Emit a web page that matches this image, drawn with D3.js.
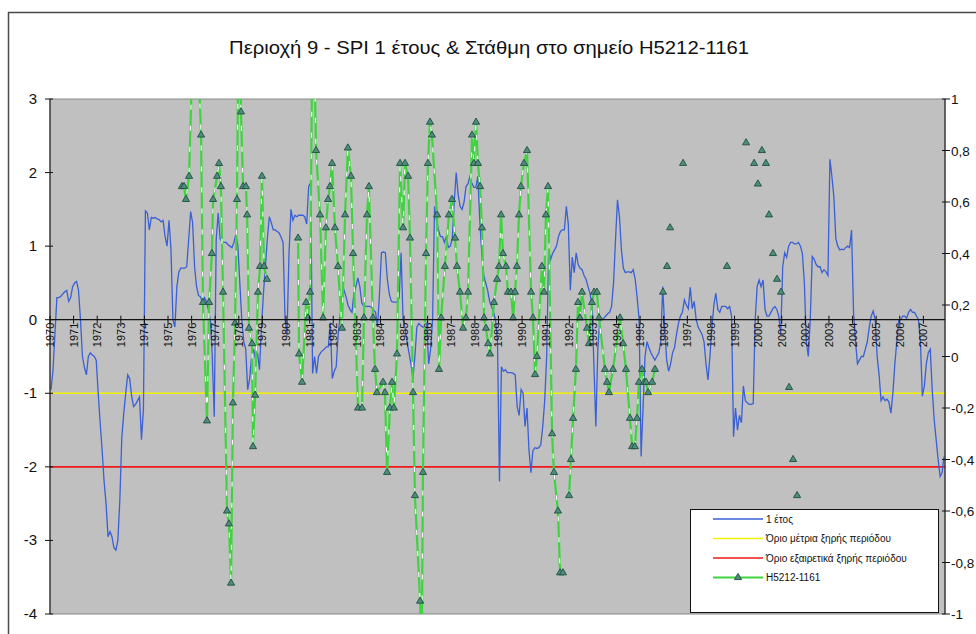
<!DOCTYPE html>
<html><head><meta charset="utf-8">
<script src="https://cdn.jsdelivr.net/npm/d3@7"></script>
<style>body{margin:0;background:#fff}svg{display:block}text{font-family:"Liberation Sans",Arial,sans-serif}</style>
</head><body><svg id="c" width="976" height="634"></svg>
<script>
const title = "Περιοχή 9 - SPI 1 έτους & Στάθμη στο σημείο H5212-1161";
const startYear = 1970;
const yearLabels = d3.range(1970, 2008).map(String);
const leftTicks = [3, 2, 1, 0, -1, -2, -3, -4];
const rightTicks = [1, 0.8, 0.6, 0.4, 0.2, 0, -0.2, -0.4, -0.6, -0.8, -1];
const thresholdModerate = -1;
const thresholdExtreme = -2;
const legendLabels = ["1 έτος", "Όριο μέτρια ξηρής περιόδου", "Όριο εξαιρετικά ξηρής περιόδου", "H5212-1161"];

// SPI 12-month, monthly from Jan 1970 to Nov 2007
const spi1yr = [
 -0.95,-0.7,-0.2,0.3,0.3,0.32,0.35,0.38,0.4,0.25,0.3,0.45,
 0.5,0.52,0.4,0.0,-0.5,-0.65,-0.75,-0.5,-0.45,-0.48,-0.5,-0.55,
 -1.0,-1.4,-1.77,-2.2,-2.5,-2.95,-2.88,-2.95,-3.1,-3.13,-3.0,-2.45,
 -1.6,-1.27,-1.0,-0.75,-0.8,-1.04,-1.18,-1.15,-1.1,-1.05,-1.63,-1.22,
 1.48,1.45,1.22,1.39,1.38,1.39,1.37,1.36,1.33,1.35,1.13,1.0,
 1.35,0.95,0.0,-0.1,0.45,0.65,0.7,0.7,0.7,0.72,1.09,1.47,
 1.32,0.72,0.45,0.33,0.31,0.23,0.3,0.25,0.14,0.0,-0.5,-1.32,
 1.09,1.45,1.1,1.05,1.05,1.05,1.02,1.0,0.98,1.05,1.16,1.0,
 0.5,0.0,-0.3,-0.4,-0.95,-0.8,-0.5,-0.4,-0.54,-0.45,-0.68,-0.1,
 0.35,0.72,1.1,1.4,1.32,1.22,1.22,1.2,1.18,1.12,1.05,0.0,
 -0.2,0.9,1.5,1.35,1.42,1.4,1.42,1.42,1.42,1.4,1.3,1.81,
 1.86,-0.73,-0.5,-0.73,-0.5,-0.45,-0.42,-0.4,-0.37,-0.37,-0.04,-0.8,
 -0.7,-0.64,-0.2,0.05,0.3,0.4,0.31,0.2,0.14,0.1,0.35,0.45,
 0.57,0.45,0.23,0.18,0.18,0.18,0.18,0.17,0.13,0.1,-0.1,0.35,
 0.91,0.92,0.91,0.55,0.35,0.25,0.24,0.24,0.24,0.3,0.91,0.0,
 -0.1,-0.3,-0.45,-0.6,-0.8,-0.5,-0.1,-0.05,-0.08,-0.1,-0.1,-0.05,
 -0.6,-0.4,0.0,1.54,1.35,1.22,1.13,1.13,1.05,1.13,0.98,1.0,
 1.1,1.6,2.0,1.7,1.54,1.5,1.6,1.81,1.85,1.95,1.85,1.8,
 1.8,1.95,1.35,0.9,0.6,0.5,0.4,0.25,0.18,0.1,0.0,-0.3,
 -2.2,-0.64,-0.7,-0.68,-0.72,-0.72,-0.72,-0.73,-0.75,-1.18,-1.3,-0.95,
 -1.0,-1.45,-1.2,-1.77,-2.08,-1.78,-1.74,-1.75,-1.74,-1.7,-1.45,-1.1,
 -0.5,0.95,0.82,0.9,0.95,1.0,1.13,1.2,1.22,1.22,1.54,1.3,
 0.4,0.85,0.64,0.91,0.75,0.7,0.68,0.6,0.55,0.45,0.36,0.2,
 -0.6,-1.45,-0.4,0.0,0.0,0.02,0.05,0.08,0.1,0.18,0.5,1.09,
 1.63,1.4,0.95,0.7,0.64,0.65,0.65,0.64,0.68,0.55,0.3,0.0,
 -1.86,-1.2,-0.5,-0.3,-0.38,-0.45,-0.5,-0.55,-0.5,-0.45,-0.3,0.45,
 -0.1,-0.55,-0.7,-0.6,-0.45,-0.38,-0.2,-0.05,0.05,0.1,0.27,0.2,
 0.15,0.44,0.15,0.25,0.0,-0.1,-0.15,-0.2,-0.3,-0.6,-0.82,-0.5,
 -0.1,0.2,0.36,0.14,0.1,0.18,0.18,0.18,0.15,0.18,0.05,-1.59,
 -1.2,-1.5,-1.3,-1.4,-0.9,-1.1,-1.13,-1.15,-1.15,-1.14,0.0,0.45,
 0.54,0.45,0.54,0.14,0.05,0.05,0.1,0.15,0.18,0.14,0.05,-0.2,
 0.72,0.91,0.85,1.0,1.05,1.05,1.03,1.03,1.05,1.0,0.9,0.5,
 -0.3,-0.5,0.0,0.86,0.82,0.75,0.72,0.72,0.64,0.68,0.65,0.6,
 2.18,1.95,1.67,1.1,1.0,0.95,0.96,0.95,0.98,1.0,0.98,1.22,
 0.1,-0.3,-0.6,-0.55,-0.5,-0.5,-0.4,-0.3,-0.1,0.05,0.12,0.0,
 -0.5,-0.75,-1.1,-1.05,-1.1,-1.08,-1.12,-1.27,-1.0,-0.6,-0.3,0.0,
 0.0,0.05,0.05,0.02,0.1,0.14,0.1,0.1,0.05,0.0,-0.3,-1.04,
 -0.9,-0.6,-0.45,-0.4,-0.95,-1.36,-1.63,-1.9,-2.13,-2.08,-1.86
];

// Groundwater level H5212-1161 (right axis); null = gap in the line
const levelDates = [
 1975.59,1975.68,1975.76,1975.89,1976.14,1976.40,1976.48,1976.65,1976.74,1976.86,1976.91,1977.08,1977.16,1977.24,1977.33,
 1977.50,1977.58,1977.67,1977.75,1977.84,1977.92,1978.01,1978.09,1978.18,1978.30,1978.35,1978.43,1978.56,1978.60,1978.69,
 1978.81,1978.90,1978.98,1979.07,1979.19, 1980.0,
 1980.51,1980.55,1980.68,1980.85,1980.93,1981.02,1981.14,1981.27,1981.44,1981.57,1981.69,1981.78,1981.86,1981.95,
 1982.07,1982.20,1982.37,1982.50,1982.62,1982.75,1982.84,1983.05,1983.22,1983.30,1983.43,1983.51,1983.68,1983.77,1983.85,
 1984.11,1984.19,1984.28,1984.40,1984.49,1984.57,1984.70,1984.83,1984.96,1985.04,1985.17,1985.25,1985.38,1985.46,
 1985.68,1985.74,1985.80,1985.93,1986.01,1986.10,1986.18,1986.40,1986.48,1986.57,1986.73,1986.90,1987.03,1987.16,
 1987.24,1987.37,1987.50,1987.62,1987.71,1987.88,1987.96,1988.05,1988.13,1988.22,1988.30,1988.39,1988.47,1988.56,
 1988.64,1988.81,1988.94,1989.02,1989.11,1989.19,1989.32,1989.40,1989.53,1989.62,1989.70,1989.78,1989.87,1989.95,
 1990.08,1990.21,1990.38,1990.46,1990.55,1990.63,1990.84,1990.93,1991.01,1991.10,1991.27,1991.35,1991.52,1991.61,1991.73,
 1991.85,
 1991.99,1992.07,1992.16,1992.28,1992.37,1992.45,1992.54,1992.75,1992.83,1992.96,1993.05,1993.17,1993.26,1993.51,
 1993.60,1993.68,1993.85,1994.15,1994.28,1994.40,1994.57,1994.66,1994.78,1994.87,1994.95,1995.08,1995.17,1995.25,
 1995.34,1995.51,1995.63, 1995.8,
 1995.97,1996.05,1996.14,1996.2,1996.27,1996.5,1996.82,1997.0,1998.68,1999.0,1999.49,1999.7,1999.83,1999.9,1999.99,2000.1,
 2000.16,2000.25,2000.33,2000.4,2000.46,2000.55,2000.63,2000.7,2000.80,2000.9,2000.97,2001.1,2001.31,2001.4,2001.48,2001.55,2001.65
];
const levelValues = [
 0.66,0.66,0.61,0.70,1.5,0.86,0.21,-0.25,0.21,0.40,0.61,0.70,0.75,0.66,0.25,
 -0.60,-0.65,-0.88,-0.18,0.13,0.61,1.5,0.95,0.66,0.66,0.55,0.11,0.05,-0.35,-0.15,
 0.25,0.35,0.70,0.35,0.30, null,
 0.46,0.01,-0.10,0.21,0.15,0.25,1.5,0.80,0.55,0.15,0.50,0.61,0.66,0.75,
 0.50,0.35,0.11,0.55,0.81,0.70,0.40,-0.20,-0.20,0.15,0.55,0.66,0.15,-0.05,-0.14,
 -0.10,-0.14,-0.45,-0.20,-0.10,-0.20,0.01,0.75,0.50,0.75,0.70,0.46,-0.14,-0.54,
 -0.95,-1.3,-0.45,0.40,0.75,0.91,0.86,0.55,-0.05,0.15,0.35,0.55,0.61,0.46,
 0.35,0.25,0.11,0.15,0.25,0.86,0.75,0.91,0.75,0.66,0.50,0.15,0.11,0.05,
 0.01,0.21,0.30,0.35,0.55,0.40,0.35,0.25,0.25,0.15,0.25,0.35,0.55,0.66,
 0.75,0.80,0.25,0.15,-0.07,0.00,0.35,0.25,0.55,0.66,-0.30,-0.45,-0.60,-0.84,-0.84,
 null,
 -0.54,-0.40,-0.24,-0.05,0.21,0.15,0.25,0.11,0.05,0.21,0.25,0.25,0.15,-0.05,
 -0.10,-0.14,-0.05,0.15,0.05,-0.05,-0.24,-0.35,-0.35,-0.24,-0.10,-0.05,-0.10,-0.10,
 -0.14,-0.10,-0.05, null,
 0.25,null,0.35,null,0.50,null,0.75,null,0.35,null,0.83,null,0.75,null,0.67,null,
 0.80,null,0.75,null,0.55,null,0.40,null,0.30,null,0.25,null,-0.12,null,-0.40,null,-0.54
];

const svg = d3.select("#c");
const W = 976, H = 634;
const P = {l: 50, r: 945, t: 99, b: 614};

svg.append("rect").attr("width", W).attr("height", H).attr("fill", "#fff");
svg.append("rect").attr("x", 8.5).attr("y", 12.5).attr("width", 1000).attr("height", 700)
  .attr("fill", "none").attr("stroke", "#4a4a4a").attr("stroke-width", 1.5);

svg.append("text").attr("x", 489).attr("y", 54).attr("text-anchor", "middle")
  .attr("font-size", 19).attr("textLength", 520).attr("lengthAdjust", "spacingAndGlyphs")
  .attr("fill", "#111").text(title);

const nMonths = spi1yr.length;
const x = d3.scaleLinear().domain([startYear, startYear + nMonths / 12]).range([P.l, P.r]);
const yL = d3.scaleLinear().domain([-4, 3]).range([P.b, P.t]);
const yR = d3.scaleLinear().domain([-1, 1]).range([P.b, P.t]);

svg.append("defs").append("clipPath").attr("id", "pc").append("rect")
  .attr("x", P.l).attr("y", P.t).attr("width", P.r - P.l).attr("height", P.b - P.t);

svg.append("rect").attr("x", P.l).attr("y", P.t).attr("width", P.r - P.l).attr("height", P.b - P.t)
  .attr("fill", "#c0c0c0").attr("stroke", "#888").attr("stroke-width", 1);

const g = svg.append("g").attr("clip-path", "url(#pc)");

// thresholds
g.append("line").attr("x1", P.l).attr("x2", P.r).attr("y1", yL(thresholdModerate)).attr("y2", yL(thresholdModerate))
  .attr("stroke", "#f2f200").attr("stroke-width", 1.6);
g.append("line").attr("x1", P.l).attr("x2", P.r).attr("y1", yL(thresholdExtreme)).attr("y2", yL(thresholdExtreme))
  .attr("stroke", "#f01818").attr("stroke-width", 1.6);

// x axis at zero
const y0 = yL(0);
svg.append("line").attr("x1", P.l).attr("x2", P.r).attr("y1", y0).attr("y2", y0).attr("stroke", "#111").attr("stroke-width", 1.2);
const xa = svg.append("g");
yearLabels.forEach((lab, i) => {
  const xx = x(startYear + i);
  xa.append("line").attr("x1", xx).attr("x2", xx).attr("y1", y0 - 4).attr("y2", y0 + 4).attr("stroke", "#111");
  xa.append("text").attr("transform", `translate(${xx + 4},${y0 + 3}) rotate(-90)`)
    .attr("text-anchor", "end").attr("font-size", 11).attr("fill", "#111").text(lab);
});

// blue SPI line
const spiPts = spi1yr.map((v, i) => [startYear + (i + 0.5) / 12, v]);
g.append("path").datum(spiPts).attr("fill", "none").attr("stroke", "#3a5fd6").attr("stroke-width", 1.3)
  .attr("d", d3.line().x(d => x(d[0])).y(d => yL(d[1])));

// green level line
const lvl = levelDates.map((t, i) => [t, levelValues[i]]);
const gl = d3.line().defined(d => d[1] !== null).x(d => x(d[0])).y(d => yR(d[1]));
g.append("path").datum(lvl).attr("fill", "none").attr("stroke", "#3fd43f").attr("stroke-width", 2.2).attr("d", gl);
g.append("path").datum(lvl).attr("fill", "none").attr("stroke", "#fff").attr("stroke-width", 1.1)
  .attr("stroke-dasharray", "5,16").attr("d", gl);
const tri = d3.symbol().type(d3.symbolTriangle).size(22);
g.selectAll(".m").data(lvl.filter(d => d[1] !== null)).join("path")
  .attr("transform", d => `translate(${x(d[0])},${yR(d[1])})`).attr("d", tri)
  .attr("fill", "#4f8c7c").attr("stroke", "#1d4f40").attr("stroke-width", 0.9);

// left axis
svg.append("line").attr("x1", P.l).attr("x2", P.l).attr("y1", P.t).attr("y2", P.b).attr("stroke", "#111");
leftTicks.forEach(v => {
  svg.append("line").attr("x1", P.l - 5).attr("x2", P.l + 3).attr("y1", yL(v)).attr("y2", yL(v)).attr("stroke", "#111");
  svg.append("text").attr("x", 37).attr("y", yL(v) + 5).attr("text-anchor", "end").attr("font-size", 15).attr("fill", "#111").text(v);
});
// right axis
svg.append("line").attr("x1", P.r).attr("x2", P.r).attr("y1", P.t).attr("y2", P.b).attr("stroke", "#111");
rightTicks.forEach(v => {
  svg.append("line").attr("x1", P.r - 3).attr("x2", P.r + 5).attr("y1", yR(v)).attr("y2", yR(v)).attr("stroke", "#111");
  svg.append("text").attr("x", 951).attr("y", yR(v) + 5).attr("font-size", 13.5).attr("fill", "#111")
    .text(String(v).replace(".", ","));
});

// legend
const L = {x: 690, y: 509, w: 248, h: 103};
svg.append("rect").attr("x", L.x + 0.5).attr("y", L.y + 0.5).attr("width", L.w).attr("height", L.h)
  .attr("fill", "#fff").attr("stroke", "#111");
const legColors = ["#3a5fd6", "#f2f200", "#f01818", "#3fd43f"];
legendLabels.forEach((lab, i) => {
  const yy = L.y + 10 + i * 19.5;
  svg.append("line").attr("x1", 713).attr("x2", 763).attr("y1", yy).attr("y2", yy)
    .attr("stroke", legColors[i]).attr("stroke-width", i === 3 ? 1.8 : 1.5);
  if (i === 3) svg.append("path").attr("transform", `translate(738,${yy})`).attr("d", tri)
    .attr("fill", "#4f8c7c").attr("stroke", "#1d4f40").attr("stroke-width", 0.9);
  svg.append("text").attr("x", 766).attr("y", yy + 3.5).attr("font-size", 10).attr("fill", "#111").text(lab);
});
</script></body></html>
